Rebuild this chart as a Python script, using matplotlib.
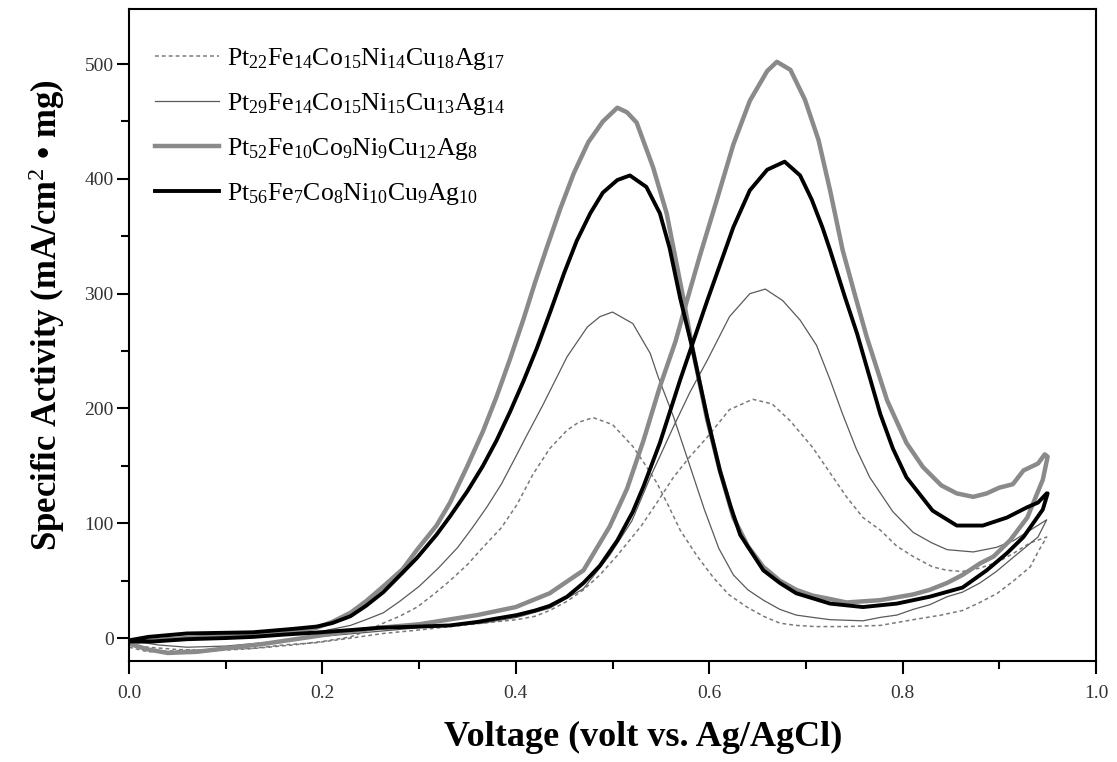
import matplotlib
matplotlib.use("Agg")
import matplotlib.pyplot as plt
from matplotlib.ticker import MultipleLocator, FormatStrFormatter

plt.rcParams['font.family'] = ['Liberation Serif', 'DejaVu Serif']
plt.rcParams['mathtext.fontset'] = 'custom'
plt.rcParams['mathtext.rm'] = 'Liberation Serif'
plt.rcParams['mathtext.it'] = 'Liberation Serif:italic'
plt.rcParams['mathtext.bf'] = 'Liberation Serif:bold'

labels = [
    r"Pt$_{22}$Fe$_{14}$Co$_{15}$Ni$_{14}$Cu$_{18}$Ag$_{17}$",
    r"Pt$_{29}$Fe$_{14}$Co$_{15}$Ni$_{15}$Cu$_{13}$Ag$_{14}$",
    r"Pt$_{52}$Fe$_{10}$Co$_{9}$Ni$_{9}$Cu$_{12}$Ag$_{8}$",
    r"Pt$_{56}$Fe$_{7}$Co$_{8}$Ni$_{10}$Cu$_{9}$Ag$_{10}$",
]

# ---- Pt22 (dashed) ----
pt22_fwd_v = [0.0, 0.02, 0.05, 0.09, 0.128, 0.16, 0.194, 0.23, 0.263, 0.30, 0.332, 0.366, 0.401, 0.42,
              0.435, 0.453, 0.47, 0.487, 0.505, 0.53, 0.546, 0.563, 0.58, 0.598, 0.621, 0.645, 0.665,
              0.684, 0.707, 0.72, 0.742, 0.759, 0.777, 0.794, 0.811, 0.831, 0.846, 0.862, 0.88, 0.898,
              0.915, 0.932, 0.949]
pt22_fwd_i = [-8, -12, -11, -10, -9, -6, -4, 0, 4, 7, 10, 13, 16, 19,
              24, 32, 42, 55, 72, 98, 118, 140, 158, 175, 199, 208, 204,
              189, 166, 150, 123, 105, 94, 80, 71, 62, 59, 58, 61, 66,
              74, 83, 88]
pt22_rev_v = [0.949, 0.94, 0.932, 0.915, 0.898, 0.88, 0.862, 0.84, 0.811, 0.777, 0.742, 0.71, 0.69,
              0.673, 0.656, 0.639, 0.62, 0.604, 0.587, 0.57, 0.558, 0.546, 0.533, 0.521, 0.50, 0.48,
              0.465, 0.453, 0.435, 0.418, 0.401, 0.385, 0.366, 0.35, 0.332, 0.315, 0.298, 0.28, 0.263,
              0.245, 0.229, 0.2, 0.17, 0.13, 0.09, 0.05, 0.02, 0.0]
pt22_rev_i = [88, 75, 62, 50, 39, 31, 24, 20, 16, 11, 10, 10, 11,
              13, 19, 27, 38, 53, 72, 94, 115, 135, 152, 167, 186, 192,
              188, 181, 165, 143, 116, 96, 79, 64, 50, 38, 27, 19, 13,
              6, 1, -3, -6, -9, -11, -10, -8, -6]

# ---- Pt29 (thin solid) ----
pt29_fwd_v = [0.0, 0.03, 0.06, 0.10, 0.14, 0.18, 0.22, 0.26, 0.30, 0.332, 0.366, 0.401, 0.435, 0.47,
              0.497, 0.52, 0.539, 0.563, 0.58, 0.598, 0.621, 0.642, 0.658, 0.676, 0.694, 0.711, 0.725,
              0.738, 0.752, 0.766, 0.79, 0.811, 0.83, 0.846, 0.873, 0.897, 0.915, 0.932, 0.949]
pt29_fwd_i = [-2, -6, -8, -7, -4, 0, 3, 6, 9, 11, 13, 18, 26, 43,
              72, 102, 140, 184, 214, 242, 280, 300, 304, 294, 277, 255, 225,
              195, 165, 140, 110, 92, 83, 77, 75, 79, 85, 94, 103]
pt29_rev_v = [0.949, 0.94, 0.914, 0.897, 0.88, 0.862, 0.846, 0.828, 0.811, 0.794, 0.777, 0.759, 0.725,
              0.707, 0.69, 0.673, 0.656, 0.64, 0.625, 0.61, 0.595, 0.58, 0.563, 0.547, 0.539, 0.521,
              0.50, 0.487, 0.474, 0.453, 0.428, 0.411, 0.40, 0.385, 0.37, 0.355, 0.34, 0.32, 0.30,
              0.28, 0.263, 0.245, 0.229, 0.2, 0.16, 0.12, 0.08, 0.04, 0.0]
pt29_rev_i = [103, 88, 70, 58, 48, 40, 36, 29, 25, 20, 18, 15, 16,
              18, 20, 25, 33, 42, 55, 78, 112, 150, 193, 228, 248, 274,
              284, 280, 271, 245, 203, 176, 158, 134, 114, 96, 79, 61, 45,
              32, 22, 16, 11, 6, 3, 1, 0, -2, -4]

# ---- Pt52 (thick gray) ----
pt52_fwd_v = [0.0, 0.02, 0.04, 0.07, 0.10, 0.14, 0.18, 0.22, 0.26, 0.30, 0.33, 0.36, 0.40, 0.435,
              0.47, 0.497, 0.515, 0.532, 0.549, 0.565, 0.577, 0.59, 0.608, 0.625, 0.642, 0.66, 0.67,
              0.684, 0.699, 0.713, 0.725, 0.738, 0.751, 0.763, 0.784, 0.804, 0.821, 0.84, 0.856,
              0.873, 0.887, 0.9, 0.914, 0.925, 0.94, 0.947]
pt52_fwd_i = [-5, -10, -13, -12, -9, -5, 0, 5, 9, 12, 16, 20, 27, 39,
              59, 97, 130, 172, 219, 258, 294, 332, 382, 430, 468, 494, 502,
              495, 469, 434, 390, 338, 298, 262, 207, 170, 149, 133, 126,
              123, 126, 131, 134, 146, 152, 160]
pt52_rev_v = [0.95, 0.945, 0.929, 0.911, 0.894, 0.88, 0.862, 0.846, 0.828, 0.811, 0.777, 0.742, 0.725,
              0.707, 0.69, 0.673, 0.656, 0.64, 0.625, 0.611, 0.598, 0.583, 0.573, 0.556, 0.542, 0.525,
              0.515, 0.505, 0.49, 0.475, 0.46, 0.446, 0.432, 0.42, 0.408, 0.394, 0.38, 0.366, 0.35,
              0.332, 0.318, 0.298, 0.283, 0.263, 0.245, 0.229, 0.21, 0.194, 0.16, 0.12, 0.08, 0.04, 0.01]
pt52_rev_i = [158, 138, 105, 85, 71, 65, 55, 48, 42, 38, 33, 31, 34,
              37, 42, 50, 62, 80, 105, 146, 190, 251, 297, 370, 410, 449,
              458, 462, 450, 432, 405, 374, 340, 310, 278, 243, 210, 180, 150,
              118, 98, 77, 60, 45, 32, 22, 14, 9, 4, 2, 1, -1, -3]

# ---- Pt56 (thick black) ----
pt56_fwd_v = [0.0, 0.025, 0.06, 0.10, 0.128, 0.16, 0.198, 0.23, 0.26, 0.30, 0.332, 0.36, 0.38, 0.401,
              0.42, 0.435, 0.453, 0.47, 0.487, 0.505, 0.521, 0.532, 0.549, 0.57, 0.598, 0.625, 0.642,
              0.66, 0.678, 0.694, 0.706, 0.717, 0.725, 0.74, 0.753, 0.777, 0.79, 0.804, 0.831, 0.856,
              0.883, 0.908, 0.929, 0.94, 0.949]
pt56_fwd_i = [-3, -3, -1, 0, 1, 3, 5, 7, 9, 10, 11, 14, 17, 20,
              24, 28, 36, 48, 63, 85, 110, 132, 170, 225, 294, 358, 390,
              408, 415, 403, 382, 358, 338, 298, 265, 195, 165, 140, 111, 98,
              98, 105, 114, 118, 126]
pt56_rev_v = [0.95, 0.945, 0.925, 0.908, 0.887, 0.862, 0.828, 0.794, 0.759, 0.725, 0.69, 0.673, 0.656,
              0.642, 0.632, 0.622, 0.611, 0.598, 0.583, 0.57, 0.559, 0.549, 0.535, 0.518, 0.505, 0.49,
              0.477, 0.463, 0.45, 0.436, 0.422, 0.408, 0.394, 0.38, 0.366, 0.35, 0.332, 0.318, 0.298,
              0.283, 0.263, 0.245, 0.229, 0.21, 0.194, 0.17, 0.128, 0.06, 0.02, 0.0]
pt56_rev_i = [126, 112, 88, 74, 59, 44, 36, 30, 27, 30, 39, 48, 59,
              77, 90, 115, 146, 192, 251, 296, 340, 370, 393, 403, 399, 388,
              370, 346, 318, 285, 253, 224, 197, 172, 150, 128, 106, 90, 70,
              57, 40, 28, 19, 13, 10, 8, 5, 4, 1, -2]

series = [
    (pt22_fwd_v + pt22_rev_v, pt22_fwd_i + pt22_rev_i,
     dict(color='#7a7a7a', lw=1.1, ls=(0, (2.5, 2.0)))),
    (pt29_fwd_v + pt29_rev_v, pt29_fwd_i + pt29_rev_i,
     dict(color='#5a5a5a', lw=0.9, ls='-')),
    (pt52_fwd_v + pt52_rev_v, pt52_fwd_i + pt52_rev_i,
     dict(color='#8a8a8a', lw=3.2, ls='-')),
    (pt56_fwd_v + pt56_rev_v, pt56_fwd_i + pt56_rev_i,
     dict(color='#000000', lw=2.8, ls='-')),
]

fig = plt.figure(figsize=(11.17, 7.62), dpi=100)
ax = fig.add_axes([129 / 1117, 1 - 661 / 762, (1096 - 129) / 1117, (661 - 9) / 762])

for (v, i, st), lab in zip(series, labels):
    ax.plot(v, i, label=lab, solid_joinstyle='round', **st)

ax.set_xlim(0.0, 1.0)
ax.set_ylim(-20, 548)
ax.xaxis.set_major_locator(MultipleLocator(0.2))
ax.xaxis.set_minor_locator(MultipleLocator(0.1))
ax.xaxis.set_major_formatter(FormatStrFormatter('%.1f'))
ax.yaxis.set_major_locator(MultipleLocator(100))
ax.yaxis.set_minor_locator(MultipleLocator(50))
ax.tick_params(which='both', direction='out', width=1.5, top=False, right=False,
               labelsize=14, labelcolor='#333333')
ax.tick_params(which='major', length=9)
ax.tick_params(which='minor', length=5.5)
ax.tick_params(axis='x', which='major', pad=8)
ax.tick_params(axis='y', which='major', pad=2)
for s in ax.spines.values():
    s.set_linewidth(1.5)

ax.set_xlabel('Voltage (volt vs. Ag/AgCl)', fontsize=26, fontweight='bold')
ax.set_ylabel('Specific Activity (mA/cm$^{2}$ • mg)', fontsize=25, fontweight='bold')
ax.xaxis.label.set_va('center')
ax.xaxis.set_label_coords((643 - 129) / 967, (661 - 737) / 652)
ax.yaxis.label.set_va('center')
ax.yaxis.set_label_coords((47 - 129) / 967, (661 - 315) / 652)

leg = ax.legend(loc='upper left', bbox_to_anchor=((155 - 129) / 967, (661 - 46) / 652),
                frameon=False, fontsize=18.5, handlelength=2.5, handletextpad=0.3,
                labelspacing=0.74, borderaxespad=0, borderpad=0)

fig.savefig('out.png', dpi=100)
